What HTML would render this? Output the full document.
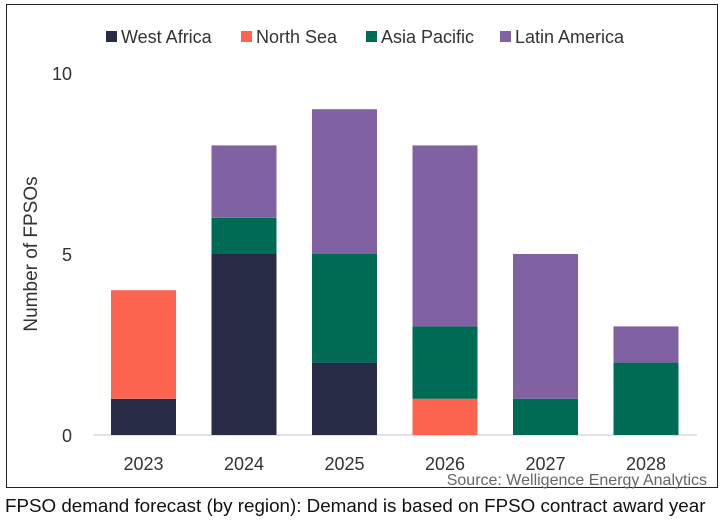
<!DOCTYPE html>
<html><head><meta charset="utf-8"><style>
body{margin:0;width:721px;height:522px;background:#fff;overflow:hidden;font-family:"Liberation Sans",sans-serif}
#frame{position:absolute;left:6px;top:4px;width:710px;height:482px;border:1.5px solid #222}
#caption{position:absolute;left:5px;top:495px;font-size:18.8px;color:#111;white-space:nowrap}
svg{position:absolute;left:0;top:0}
</style></head><body>
<div id="frame"></div>
<svg id="chart" width="721" height="522"></svg>
<div id="caption">FPSO demand forecast (by region): Demand is based on FPSO contract award year</div>
<script>
const years=["2023","2024","2025","2026","2027","2028"];
const westAfrica=[1,5,2,0,0,0];
const northSea=[3,0,0,1,0,0];
const asiaPacific=[0,1,3,2,1,2];
const latinAmerica=[0,2,4,5,4,1];
const yTicks=[0,5,10];
const seriesNames=["West Africa","North Sea","Asia Pacific","Latin America"];
const colors=["#272b45","#fc6450","#006b55","#8062a3"];
const series=[westAfrica,northSea,asiaPacific,latinAmerica];
const NS="http://www.w3.org/2000/svg";
const svg=document.getElementById('chart');
const y0=435,unit=36.2,x0=143.5,step=100.5,bw=65;
const Y=v=>y0-v*unit, X=i=>x0+i*step;
function mk(t,a,p){const e=document.createElementNS(NS,t);for(const k in a)e.setAttribute(k,a[k]);(p||svg).appendChild(e);return e;}
const grid=mk('line',{x1:93,x2:697,y1:Y(0),y2:Y(0),stroke:'#d9d9d9','stroke-width':1.5});


yTicks.forEach(t=>{const e=mk('text',{x:72,y:Y(t)+7,'text-anchor':'end','font-size':18,fill:'#333'});e.textContent=t;

});
years.forEach((yr,i)=>{let acc=0;
series.forEach((s,j)=>{const v=s[i];if(v>0){const r=mk('rect',{x:X(i)-bw/2,y:Y(acc+v),width:bw,height:v*unit,fill:colors[j]});

}acc+=v;});
const t=mk('text',{x:X(i),y:470,'text-anchor':'middle','font-size':18,fill:'#333'});t.textContent=yr;

});
const yl=mk('text',{x:0,y:0,'text-anchor':'middle','font-size':19,fill:'#333',transform:'translate(37,254) rotate(-90)'});yl.textContent='Number of FPSOs';


const lx=[106,241,366,500];
seriesNames.forEach((n,j)=>{const g=mk('g',{});


mk('rect',{x:lx[j],y:31,width:11,height:11,fill:colors[j]},g);
const t=mk('text',{x:lx[j]+15,y:43,'font-size':18,fill:'#333'},g);t.textContent=n;});
const src=mk('text',{x:707,y:485,'text-anchor':'end','font-size':16,fill:'#666'});src.textContent='Source: Welligence Energy Analytics';


</script>
</body></html>
